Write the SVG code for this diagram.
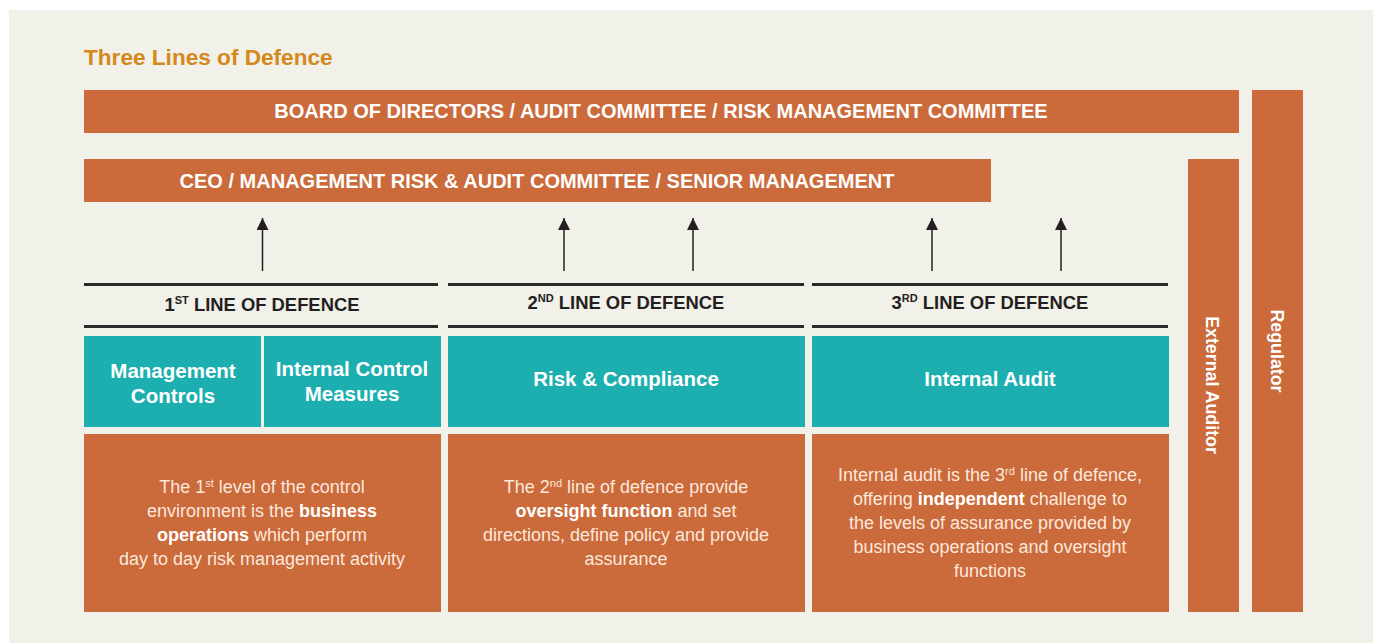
<svg xmlns="http://www.w3.org/2000/svg" width="1373" height="643" viewBox="0 0 1373 643">
<defs>
<style>
.bar{fill:#CB6A3A}
.teal{fill:#1DAFAF}
.bt{font-family:"Liberation Sans",Arial,sans-serif;font-weight:bold;fill:#fff;text-anchor:middle}
.hd{font-family:"Liberation Sans",Arial,sans-serif;font-weight:bold;fill:#231f20;font-size:18.4px;text-anchor:middle}
.body{font-family:"Liberation Sans",Arial,sans-serif;fill:#fbe8dd;font-size:18px;text-anchor:middle}
.body tspan.b{font-weight:bold;fill:#fff}
.rule{stroke:#2b2a28;stroke-width:3}
.conn{stroke:#231f20;stroke-width:1.5;fill:none}
</style>
<marker id="ah" viewBox="0 0 10 10" refX="10" refY="5" markerWidth="12" markerHeight="12" markerUnits="userSpaceOnUse" orient="auto">
<path d="M0,0 L10,5 L0,10 z" fill="#231f20"/>
</marker>
</defs>
<rect x="0" y="0" width="1373" height="643" fill="#fff"/>
<rect x="9" y="10" width="1364" height="633" fill="#F1F0E9"/>
<text x="84" y="65" font-family="Liberation Sans,Arial,sans-serif" font-weight="bold" font-size="22.6" fill="#D4891A">Three Lines of Defence</text>

<g id="board">
<rect class="bar" x="84" y="90" width="1155" height="43"/>
<text class="bt" x="661" y="118" font-size="20">BOARD OF DIRECTORS / AUDIT COMMITTEE / RISK MANAGEMENT COMMITTEE</text>
</g>
<g id="ceo">
<rect class="bar" x="84" y="159" width="907" height="43"/>
<text class="bt" x="537" y="188" font-size="20">CEO / MANAGEMENT RISK &amp; AUDIT COMMITTEE / SENIOR MANAGEMENT</text>
</g>
<g id="external-auditor">
<rect class="bar" x="1188" y="159" width="51" height="453"/>
<text class="bt" font-size="17.8" transform="translate(1206,385) rotate(90)">External Auditor</text>
</g>
<g id="regulator">
<rect class="bar" x="1252" y="90" width="51" height="522"/>
<text class="bt" font-size="17.8" transform="translate(1271,351) rotate(90)">Regulator</text>
</g>

<g id="line1">
<line class="rule" x1="84" y1="284.5" x2="438" y2="284.5"/>
<line class="rule" x1="84" y1="326.5" x2="438" y2="326.5"/>
<text class="hd" x="262" y="311">1<tspan font-size="11" dy="-7">ST</tspan><tspan dy="7"> LINE OF DEFENCE</tspan></text>
</g>
<g id="line2">
<line class="rule" x1="448" y1="284.5" x2="804" y2="284.5"/>
<line class="rule" x1="448" y1="326.5" x2="804" y2="326.5"/>
<text class="hd" x="626" y="309">2<tspan font-size="11" dy="-7">ND</tspan><tspan dy="7"> LINE OF DEFENCE</tspan></text>
</g>
<g id="line3">
<line class="rule" x1="812" y1="284.5" x2="1168" y2="284.5"/>
<line class="rule" x1="812" y1="326.5" x2="1168" y2="326.5"/>
<text class="hd" x="990" y="309">3<tspan font-size="11" dy="-7">RD</tspan><tspan dy="7"> LINE OF DEFENCE</tspan></text>
</g>

<g id="management-controls">
<rect class="teal" x="84" y="336" width="177" height="91"/>
<text class="bt" font-size="20.5" x="173" y="378">Management</text>
<text class="bt" font-size="20.5" x="173" y="403">Controls</text>
</g>
<g id="internal-control-measures">
<rect class="teal" x="264" y="336" width="177" height="91"/>
<text class="bt" font-size="20.5" x="352" y="376">Internal Control</text>
<text class="bt" font-size="20.5" x="352" y="401">Measures</text>
</g>
<g id="risk-compliance">
<rect class="teal" x="448" y="336" width="357" height="91"/>
<text class="bt" font-size="20.5" x="626" y="386">Risk &amp; Compliance</text>
</g>
<g id="internal-audit">
<rect class="teal" x="812" y="336" width="357" height="91"/>
<text class="bt" font-size="20.5" x="990" y="386">Internal Audit</text>
</g>

<g id="desc1">
<rect class="bar" x="84" y="434" width="357" height="178"/>
<text class="body" x="262" y="493">The 1<tspan font-size="11" dy="-6">st</tspan><tspan dy="6"> level of the control</tspan></text>
<text class="body" x="262" y="517">environment is the <tspan class="b">business</tspan></text>
<text class="body" x="262" y="541"><tspan class="b">operations</tspan> which perform</text>
<text class="body" x="262" y="565">day to day risk management activity</text>
</g>
<g id="desc2">
<rect class="bar" x="448" y="434" width="357" height="178"/>
<text class="body" x="626" y="493">The 2<tspan font-size="11" dy="-6">nd</tspan><tspan dy="6"> line of defence provide</tspan></text>
<text class="body" x="626" y="517"><tspan class="b">oversight function</tspan> and set</text>
<text class="body" x="626" y="541">directions, define policy and provide</text>
<text class="body" x="626" y="565">assurance</text>
</g>
<g id="desc3">
<rect class="bar" x="812" y="434" width="357" height="178"/>
<text class="body" x="990" y="481">Internal audit is the 3<tspan font-size="11" dy="-6">rd</tspan><tspan dy="6"> line of defence,</tspan></text>
<text class="body" x="990" y="505">offering <tspan class="b">independent</tspan> challenge to</text>
<text class="body" x="990" y="529">the levels of assurance provided by</text>
<text class="body" x="990" y="553">business operations and oversight</text>
<text class="body" x="990" y="577">functions</text>
</g>

<g id="connectors">
<line class="conn" x1="262.5" y1="271" x2="262.5" y2="218" marker-end="url(#ah)"/>
<line class="conn" x1="564" y1="271" x2="564" y2="218" marker-end="url(#ah)"/>
<line class="conn" x1="693" y1="271" x2="693" y2="218" marker-end="url(#ah)"/>
<line class="conn" x1="932" y1="271" x2="932" y2="218" marker-end="url(#ah)"/>
<line class="conn" x1="1061" y1="271" x2="1061" y2="218" marker-end="url(#ah)"/>
</g>
</svg>
